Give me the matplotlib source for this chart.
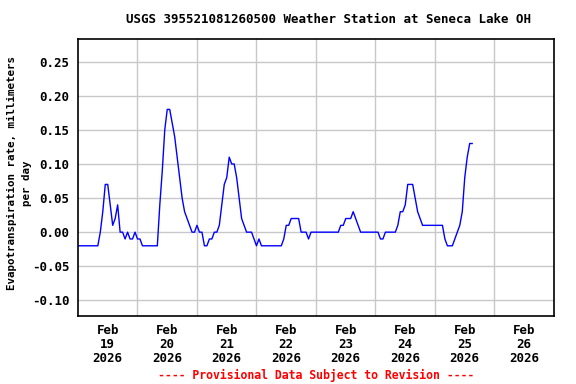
import matplotlib
matplotlib.use("Agg")
import matplotlib.pyplot as plt
import pandas as pd

plt.rcParams['font.family'] = 'DejaVu Sans Mono'
plt.rcParams['font.weight'] = 'bold'
plt.rcParams['axes.unicode_minus'] = False

TITLE = "USGS 395521081260500 Weather Station at Seneca Lake OH"
YLABEL_1 = "Evapotranspiration rate, millimeters"
YLABEL_2 = "per day"
FOOTER = "---- Provisional Data Subject to Revision ----"
START = "2026-02-19 00:00"

# hourly values, mm per day
et_values = [
    -0.02, -0.02, -0.02, -0.02, -0.02, -0.02, -0.02, -0.02, -0.02, 0.00,
    0.03, 0.07, 0.07, 0.04, 0.01, 0.02, 0.04, 0.00, 0.00, -0.01,
    0.00, -0.01, -0.01, 0.00, -0.01, -0.01, -0.02, -0.02, -0.02, -0.02,
    -0.02, -0.02, -0.02, 0.04, 0.09, 0.15, 0.18, 0.18, 0.16, 0.14,
    0.11, 0.08, 0.05, 0.03, 0.02, 0.01, 0.00, 0.00, 0.01, 0.00,
    0.00, -0.02, -0.02, -0.01, -0.01, 0.00, 0.00, 0.01, 0.04, 0.07,
    0.08, 0.11, 0.10, 0.10, 0.08, 0.05, 0.02, 0.01, 0.00, 0.00,
    0.00, -0.01, -0.02, -0.01, -0.02, -0.02, -0.02, -0.02, -0.02, -0.02,
    -0.02, -0.02, -0.02, -0.01, 0.01, 0.01, 0.02, 0.02, 0.02, 0.02,
    0.00, 0.00, 0.00, -0.01, 0.00, 0.00, 0.00, 0.00, 0.00, 0.00,
    0.00, 0.00, 0.00, 0.00, 0.00, 0.00, 0.01, 0.01, 0.02, 0.02,
    0.02, 0.03, 0.02, 0.01, 0.00, 0.00, 0.00, 0.00, 0.00, 0.00,
    0.00, 0.00, -0.01, -0.01, 0.00, 0.00, 0.00, 0.00, 0.00, 0.01,
    0.03, 0.03, 0.04, 0.07, 0.07, 0.07, 0.05, 0.03, 0.02, 0.01,
    0.01, 0.01, 0.01, 0.01, 0.01, 0.01, 0.01, 0.01, -0.01, -0.02,
    -0.02, -0.02, -0.01, 0.00, 0.01, 0.03, 0.08, 0.11, 0.13, 0.13,
]
y_ticks = [-0.10, -0.05, 0.00, 0.05, 0.10, 0.15, 0.20, 0.25]

times = pd.date_range(START, periods=len(et_values), freq="h")
days = pd.date_range(START, periods=9, freq="D")

fig = plt.figure(figsize=(5.76, 3.84), dpi=100)
ax = fig.add_axes([0.1354, 0.177, 0.8264, 0.721])
ax.plot(times, et_values, color='#0000ff', linewidth=1)

ax.set_xlim(days[0], days[-1])
ax.set_ylim(-0.123, 0.283)
ax.set_yticks(y_ticks)
ax.set_yticklabels(['%.2f' % v for v in y_ticks], fontsize=9, fontweight='bold')

# gridlines at midnight, date labels at noon
ax.set_xticks(days[1:-1])
ax.set_xticklabels([])
noon = days[:-1] + pd.Timedelta(hours=12)
ax.set_xticks(noon, minor=True)
ax.set_xticklabels([d.strftime('%b\n%d\n%Y') for d in noon], minor=True,
                   fontsize=9, fontweight='bold', linespacing=1.1)
ax.tick_params(axis='x', which='both', length=0, pad=6)
ax.tick_params(axis='y', length=0, pad=6)

ax.grid(True, which='major', color='#c8c8c8', linewidth=1)
for s in ax.spines.values():
    s.set_linewidth(1.2)

fig.text(12 / 576, 1 - 172.5 / 384, YLABEL_1, rotation=90, ha='center', va='center',
         fontsize=7.8, fontweight='bold')
fig.text(27 / 576, 1 - 183.5 / 384, YLABEL_2, rotation=90, ha='center', va='center',
         fontsize=7.8, fontweight='bold')
fig.text(0.571, 0.95, TITLE, ha='center', va='center', fontsize=9, fontweight='bold')
fig.text(0.548, 0.023, FOOTER, ha='center', va='center', fontsize=8.3,
         fontweight='bold', color='#ff0000')

fig.savefig("out.png", dpi=100)
